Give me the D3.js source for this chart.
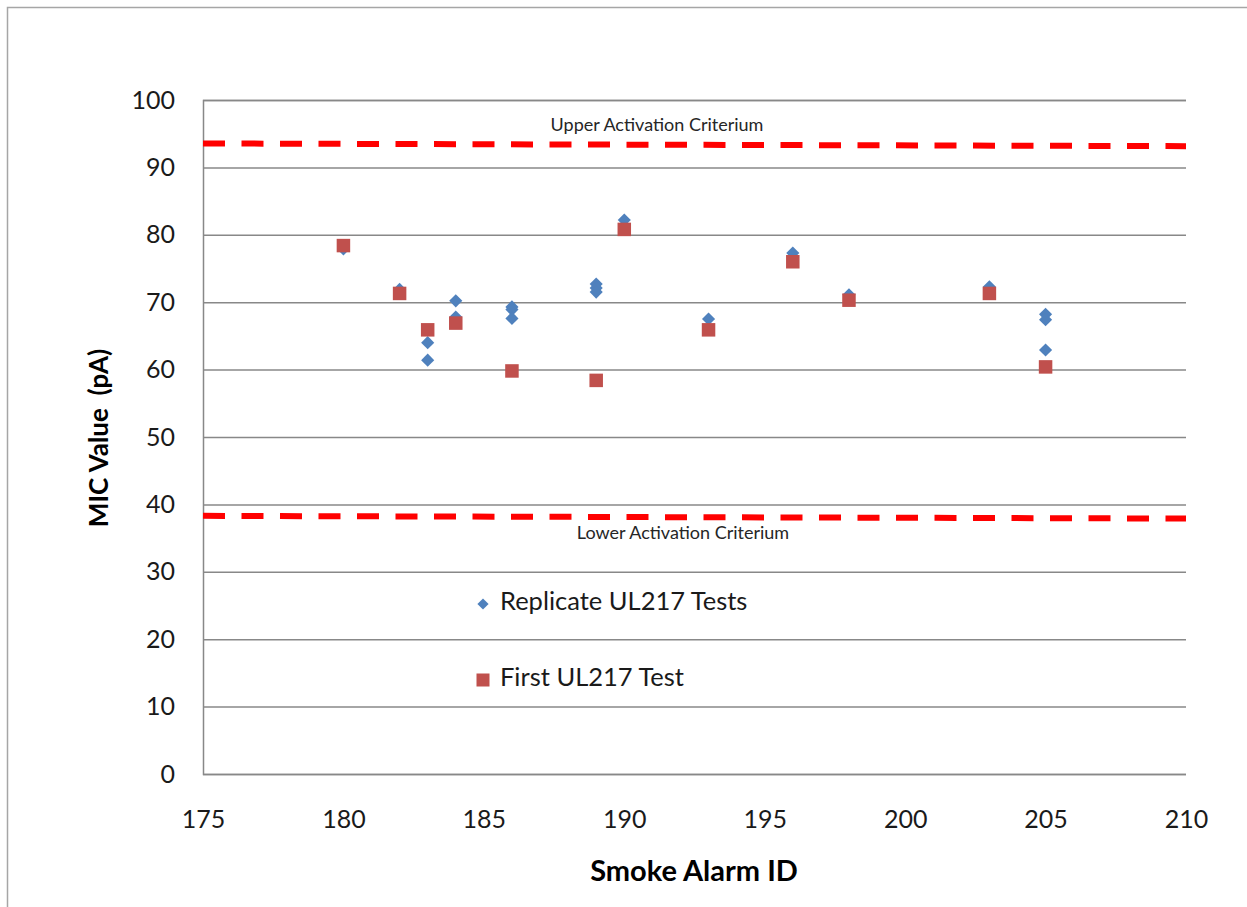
<!DOCTYPE html>
<html>
<head>
<meta charset="utf-8">
<script src="https://cdn.jsdelivr.net/npm/d3@7"></script>
<style>
  html, body { margin: 0; padding: 0; background: #fff; }
  svg { display: block; font-family: Lato, "Open Sans", sans-serif; }
</style>
</head>
<body>
<svg id="chart" width="1247" height="907"></svg>
<script>
// Replicate UL217 test results (alarm ID, MIC value in pA)
const replicateIds = [180, 182, 183, 183, 184, 184, 186, 186, 186, 189, 189, 189, 190, 193, 196, 198, 203, 205, 205, 205];
const replicateMic = [77.9, 71.9, 64.0, 61.4, 70.2, 67.8, 69.3, 68.9, 67.6, 72.7, 72.1, 71.5, 82.2, 67.5, 77.3, 71.1, 72.3, 68.2, 67.4, 62.9];

// First UL217 test result for each alarm
const firstIds = [180, 182, 183, 184, 186, 189, 190, 193, 196, 198, 203, 205];
const firstMic = [78.4, 71.3, 65.9, 66.9, 59.8, 58.4, 80.8, 65.9, 76.0, 70.3, 71.3, 60.4];

// Activation criteria lines, given by their end points
const upperCriterionX = [175, 210];
const upperCriterionY = [93.55, 93.15];
const lowerCriterionX = [175, 210];
const lowerCriterionY = [38.3, 37.9];

const xTicks = [175, 180, 185, 190, 195, 200, 205, 210];
const yTicks = [0, 10, 20, 30, 40, 50, 60, 70, 80, 90, 100];

const svg = d3.select("#chart");

// Outer chart frame
svg.append("rect")
  .attr("x", 7.5).attr("y", 7.5)
  .attr("width", 1300).attr("height", 1000)
  .attr("fill", "none").attr("stroke", "#a6a6a6").attr("stroke-width", 1.5);

const plot = { left: 203, right: 1186, top: 100, bottom: 774 };
const x = d3.scaleLinear().domain([175, 210]).range([plot.left, plot.right]);
const y = d3.scaleLinear().domain([0, 100]).range([plot.bottom, plot.top]);

// Horizontal gridlines with y tick labels
const yAxis = d3.axisLeft(y).tickValues(yTicks).tickSize(-(plot.right - plot.left)).tickPadding(28);
const gy = svg.append("g").attr("transform", `translate(${plot.left},0)`).call(yAxis);
gy.select(".domain").attr("stroke", "#888").attr("stroke-width", 1.5);
gy.selectAll(".tick line").attr("stroke", "#888").attr("stroke-width", 1.5);
gy.selectAll(".tick text")
  .attr("fill", "#1a1a1a").attr("font-size", 25)
  .attr("font-family", "Lato, sans-serif");

// X tick labels (no tick marks)
const xAxis = d3.axisBottom(x).tickValues(xTicks).tickSize(0).tickPadding(36);
const gx = svg.append("g").attr("transform", `translate(0,${plot.bottom})`).call(xAxis);
gx.select(".domain").remove();
gx.selectAll(".tick text")
  .attr("fill", "#1a1a1a").attr("font-size", 25)
  .attr("font-family", "Lato, sans-serif");

// Activation criteria
const critLine = d3.line().x(d => x(d[0])).y(d => y(d[1]));
[[upperCriterionX, upperCriterionY], [lowerCriterionX, lowerCriterionY]].forEach(([xs, ys]) => {
  svg.append("path")
    .attr("d", critLine(xs.map((v, i) => [v, ys[i]])))
    .attr("fill", "none").attr("stroke", "#ff0000")
    .attr("stroke-width", 6).attr("stroke-dasharray", "22 16.5");
});

svg.append("text")
  .attr("x", 657).attr("y", 126).attr("text-anchor", "middle").attr("dominant-baseline", "middle")
  .attr("font-size", 18).attr("fill", "#262626")
  .text("Upper Activation Criterium");
svg.append("text")
  .attr("x", 683).attr("y", 534).attr("text-anchor", "middle").attr("dominant-baseline", "middle")
  .attr("font-size", 18).attr("fill", "#262626")
  .text("Lower Activation Criterium");

// Markers
const diamond = d3.symbol().type(d3.symbolDiamond2).size(110);
const blue = "#4f81bd", red = "#c0504d";

svg.append("g").selectAll("path")
  .data(replicateIds.map((id, i) => [id, replicateMic[i]]))
  .join("path")
  .attr("transform", d => `translate(${x(d[0])},${y(d[1])})`)
  .attr("d", diamond)
  .attr("fill", blue);

const sq = 13.5;
svg.append("g").selectAll("rect")
  .data(firstIds.map((id, i) => [id, firstMic[i]]))
  .join("rect")
  .attr("x", d => x(d[0]) - sq / 2)
  .attr("y", d => y(d[1]) - sq / 2)
  .attr("width", sq).attr("height", sq)
  .attr("fill", red);

// Legend
const legend = svg.append("g");
legend.append("path")
  .attr("transform", "translate(483,604)")
  .attr("d", d3.symbol().type(d3.symbolDiamond2).size(80))
  .attr("fill", blue);
legend.append("text")
  .attr("x", 500).attr("y", 604).attr("dominant-baseline", "middle")
  .attr("font-size", 25.5).attr("fill", "#1a1a1a")
  .text("Replicate UL217 Tests");
legend.append("rect")
  .attr("x", 476.5).attr("y", 673.5).attr("width", 13).attr("height", 13)
  .attr("fill", red);
legend.append("text")
  .attr("x", 500).attr("y", 680).attr("dominant-baseline", "middle")
  .attr("font-size", 25.5).attr("fill", "#1a1a1a")
  .text("First UL217 Test");

// Axis titles
svg.append("text")
  .attr("x", 694).attr("y", 874).attr("text-anchor", "middle").attr("dominant-baseline", "middle")
  .attr("font-size", 29).attr("font-weight", "bold").attr("fill", "#000")
  .text("Smoke Alarm ID");
svg.append("text")
  .attr("transform", "translate(101,438) rotate(-90)")
  .attr("text-anchor", "middle").attr("dominant-baseline", "middle")
  .attr("font-size", 26).attr("font-weight", "bold").attr("fill", "#000")
  .attr("xml:space", "preserve")
  .text("MIC Value  (pA)");
</script>
</body>
</html>
